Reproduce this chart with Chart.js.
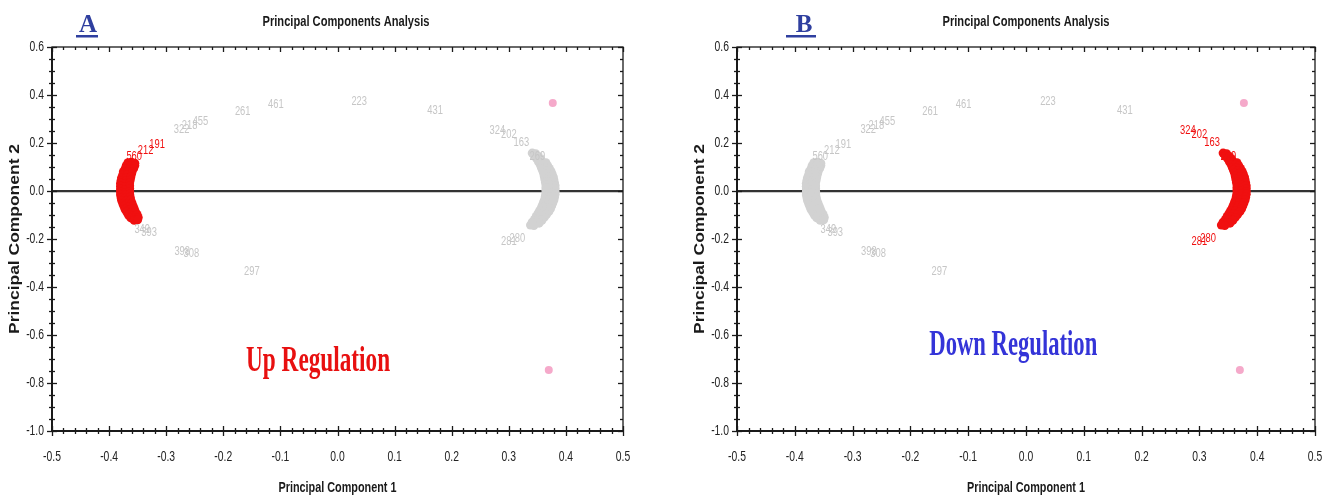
<!DOCTYPE html>
<html><head><meta charset="utf-8">
<script src="https://cdn.jsdelivr.net/npm/chart.js@4.4.1/dist/chart.umd.min.js"></script>
<style>
html,body{margin:0;padding:0;background:#fff;}
#wrap{position:relative;width:1328px;height:498px;overflow:hidden;}
canvas{position:absolute;top:0;}
#cA{left:0}
#cB{left:664px}
</style></head><body>
<div id="wrap"><canvas id="cA" width="664" height="498"></canvas><canvas id="cB" width="664" height="498"></canvas></div>
<script>
// ---------- data ----------
const xTickValues = [-0.5,-0.4,-0.3,-0.2,-0.1,0,0.1,0.2,0.3,0.4,0.5];
const yTickValues = [0.6,0.4,0.2,0,-0.2,-0.4,-0.6,-0.8,-1.0];

// crescent cluster near PC1 = -0.37
const clusterLeft = [
  [-0.367,0.118],[-0.361,0.120],[-0.355,0.116],[-0.370,0.105],[-0.362,0.104],[-0.355,0.106],
  [-0.372,0.092],[-0.364,0.090],[-0.357,0.094],[-0.375,0.080],[-0.367,0.080],[-0.360,0.078],
  [-0.376,0.068],[-0.369,0.066],[-0.361,0.070],[-0.378,0.056],[-0.370,0.054],[-0.362,0.058],
  [-0.379,0.044],[-0.371,0.042],[-0.363,0.046],[-0.380,0.032],[-0.372,0.030],[-0.364,0.034],
  [-0.380,0.020],[-0.372,0.018],[-0.364,0.022],[-0.380,0.008],[-0.372,0.006],[-0.364,0.010],
  [-0.380,-0.004],[-0.372,-0.006],[-0.364,-0.002],[-0.380,-0.016],[-0.372,-0.018],[-0.364,-0.014],
  [-0.379,-0.028],[-0.371,-0.030],[-0.363,-0.026],[-0.378,-0.040],[-0.370,-0.042],[-0.362,-0.038],
  [-0.376,-0.052],[-0.368,-0.054],[-0.360,-0.050],[-0.374,-0.064],[-0.366,-0.066],[-0.358,-0.062],
  [-0.372,-0.076],[-0.364,-0.078],[-0.356,-0.074],[-0.369,-0.088],[-0.361,-0.090],[-0.354,-0.086],
  [-0.366,-0.100],[-0.358,-0.102],[-0.351,-0.098],[-0.362,-0.112],[-0.355,-0.114],[-0.349,-0.110],
  [-0.356,-0.122],[-0.350,-0.120]
];
// crescent cluster near PC1 = 0.37
const clusterRight = [
  [0.341,0.158],[0.347,0.155],[0.345,0.146],[0.352,0.144],[0.349,0.134],[0.356,0.132],
  [0.352,0.122],[0.359,0.120],[0.365,0.118],[0.355,0.110],[0.362,0.108],[0.368,0.106],
  [0.357,0.098],[0.364,0.096],[0.371,0.094],[0.359,0.086],[0.367,0.084],[0.374,0.082],
  [0.361,0.074],[0.369,0.072],[0.376,0.070],[0.362,0.062],[0.370,0.060],[0.378,0.058],
  [0.363,0.050],[0.371,0.048],[0.379,0.046],[0.364,0.038],[0.372,0.036],[0.380,0.034],
  [0.365,0.026],[0.373,0.024],[0.381,0.022],[0.365,0.014],[0.373,0.012],[0.381,0.010],
  [0.365,0.002],[0.373,0.000],[0.381,-0.002],[0.365,-0.010],[0.373,-0.012],[0.381,-0.014],
  [0.364,-0.022],[0.372,-0.024],[0.380,-0.026],[0.363,-0.034],[0.371,-0.036],[0.379,-0.038],
  [0.361,-0.046],[0.369,-0.048],[0.377,-0.050],[0.359,-0.058],[0.367,-0.060],[0.375,-0.062],
  [0.357,-0.070],[0.365,-0.072],[0.373,-0.074],[0.354,-0.082],[0.362,-0.084],[0.370,-0.086],
  [0.351,-0.094],[0.359,-0.096],[0.366,-0.098],[0.348,-0.106],[0.356,-0.108],[0.362,-0.110],
  [0.345,-0.118],[0.352,-0.120],[0.358,-0.122],[0.341,-0.130],[0.348,-0.132],[0.353,-0.134],
  [0.338,-0.142],[0.344,-0.144]
];
const centroid = [[-0.370, 0.000]];
const pinkPoints = [[0.377, 0.367],[0.370,-0.746]];

// individually labelled features
const labelText = ['560','212','191','322','218','455','261','461','223','431','324','202','163','269','281','280','349','393','398','308','297'];
const labelX    = [-0.356,-0.336,-0.316,-0.273,-0.259,-0.240,-0.166,-0.108,0.038,0.171,0.280,0.300,0.322,0.350,0.300,0.315,-0.342,-0.330,-0.272,-0.256,-0.150];
const labelY    = [ 0.145, 0.170, 0.195, 0.255, 0.272, 0.290, 0.330, 0.360,0.373,0.336,0.250,0.235,0.200,0.145,-0.210,-0.198,-0.162,-0.172,-0.252,-0.262,-0.335];
const upLabels   = ['560','212','191'];
const downLabels = ['324','202','163','269','281','280'];

// ---------- drawing ----------
const SANS = "'Liberation Sans',Arial,sans-serif";
const SERIF = "'Liberation Serif','Times New Roman',serif";
const RED = '#f01010', GREY = '#d2d2d2';
const toXY = arr => arr.map(p => ({x:p[0], y:p[1]}));
const fmt = v => (Math.abs(v) < 1e-9 ? 0 : v).toFixed(1);

function fitText(ctx, text, cx, cy, font, color, width, rot){
  ctx.save();
  ctx.font = font; ctx.fillStyle = color;
  ctx.textAlign = 'center'; ctx.textBaseline = 'middle';
  const w = ctx.measureText(text).width;
  ctx.translate(cx, cy);
  if (rot) ctx.rotate(rot);
  ctx.scale(width / w, 1);
  ctx.fillText(text, 0, 0);
  ctx.restore();
}
function narrowText(ctx, text, px, py, align, font, color, sx){
  ctx.save();
  ctx.font = font; ctx.fillStyle = color;
  ctx.textAlign = align; ctx.textBaseline = 'middle';
  ctx.translate(px, py);
  ctx.scale(sx, 1);
  ctx.fillText(text, 0, 0);
  ctx.restore();
}

function decor(P){
  return {
    id:'decor'+P.letter,
    afterDatasetsDraw(chart){
      const {ctx, scales:{x, y}} = chart;
      const meta = chart.getDatasetMeta(4);
      meta.data.forEach((el, i) => {
        const t = labelText[i];
        narrowText(ctx, t, el.x, el.y, 'center', '12px ' + SANS,
                   P.redLabels.includes(t) ? RED : '#c6c6c6', 0.78);
      });
      fitText(ctx, P.regText, x.getPixelForValue(P.regPos[0]), y.getPixelForValue(P.regPos[1]),
              'bold 36px ' + SERIF, P.regColor, P.regWidth);
    },
    afterDraw(chart){
      const {ctx, chartArea:{left, right, top, bottom}, scales:{x, y}} = chart;
      ctx.save();
      ctx.strokeStyle = '#1a1a1a';
      ctx.lineWidth = 1.3;
      ctx.strokeRect(left, top, right - left, bottom - top);
      ctx.lineWidth = 2;
      ctx.beginPath(); ctx.moveTo(left, bottom); ctx.lineTo(right, bottom); ctx.stroke();
      ctx.beginPath(); ctx.moveTo(left, top); ctx.lineTo(left, bottom); ctx.stroke();
      ctx.lineWidth = 1.3;
      const line = (a,b,c,d) => { ctx.beginPath(); ctx.moveTo(a,b); ctx.lineTo(c,d); ctx.stroke(); };
      for (let i = 0; i <= 50; i++){
        const px = Math.round(x.getPixelForValue(-0.5 + i*0.02)) + 0.5;
        const major = i % 5 === 0;
        const l = major ? 5 : 3;
        line(px, bottom - l, px, bottom + l);
        line(px, top, px, top + l);
      }
      for (let i = 0; i <= 32; i++){
        const py = Math.round(y.getPixelForValue(-1 + i*0.05)) + 0.5;
        const major = i % 4 === 0;
        const l = major ? 5 : 3;
        line(left - l, py, left + l, py);
        line(right - l, py, right, py);
      }
      ctx.restore();
      // tick labels from the library's ticks
      x.ticks.forEach(t => narrowText(ctx, fmt(t.value), x.getPixelForValue(t.value), bottom + 26,
                                      'center', '14px ' + SANS, '#222', 0.74));
      y.ticks.forEach(t => narrowText(ctx, fmt(t.value), left - 8, y.getPixelForValue(t.value),
                                      'right', '14px ' + SANS, '#222', 0.74));
      // panel letter
      ctx.save();
      ctx.font = 'bold 25px ' + SERIF;
      ctx.fillStyle = '#2f3f9f';
      ctx.textAlign = 'center'; ctx.textBaseline = 'alphabetic';
      ctx.fillText(P.letter, P.letterX, 32);
      ctx.fillRect(P.ulX0, 35, P.ulX1 - P.ulX0, 2.5);
      ctx.restore();
      // titles
      fitText(ctx, 'Principal Components Analysis', P.titleX, 22, 'bold 14px ' + SANS, '#1a1a1a', 167);
      fitText(ctx, 'Principal Component 1', (left + right)/2, 488, 'bold 14px ' + SANS, '#1a1a1a', 118);
      fitText(ctx, 'Principal Component 2', P.yTitleX, (top + bottom)/2, 'bold 14px ' + SANS, '#1a1a1a', 190, -Math.PI/2);
    }
  };
}

function build(id, P){
  const labelPts = labelText.map((t, i) => ({x: labelX[i], y: labelY[i]}));
  return new Chart(document.getElementById(id), {
    type:'scatter',
    data:{datasets:[
      {data:toXY(clusterLeft), backgroundColor:P.leftColor, pointRadius:4.5, borderWidth:0},
      {data:toXY(clusterRight), backgroundColor:P.rightColor, pointRadius:4.5, borderWidth:0},
      {data:toXY(pinkPoints), backgroundColor:'#f5a9ca', pointRadius:4, borderWidth:0},
      {data:toXY(centroid), backgroundColor:P.centroidColor, pointRadius:4.5, borderWidth:0},
      {data:labelPts, pointRadius:0, pointHoverRadius:0, backgroundColor:'rgba(0,0,0,0)'}
    ]},
    options:{
      responsive:false, animation:false, events:[],
      layout:{padding:{top:47, right:P.padRight, left:0, bottom:0}},
      plugins:{legend:{display:false}, tooltip:{enabled:false}, title:{display:false}},
      scales:{
        x:{type:'linear', min:-0.5, max:0.5,
           afterBuildTicks:s => { s.ticks = xTickValues.map(v => ({value:v})); },
           afterFit:s => { s.height = 67; },
           ticks:{display:false},
           grid:{display:false, drawTicks:false}, border:{display:false}},
        y:{type:'linear', min:-1.0, max:0.6,
           afterBuildTicks:s => { s.ticks = yTickValues.map(v => ({value:v})); },
           afterFit:s => { s.width = P.yWidth; },
           ticks:{display:false},
           grid:{drawTicks:false, lineWidth:2.2,
                 color:c => (c.tick && Math.abs(c.tick.value) < 1e-9) ? '#333' : 'rgba(0,0,0,0)'},
           border:{display:false}}
      }
    },
    plugins:[decor(P)]
  });
}

build('cA', {
  letter:'A', letterX:88, ulX0:76, ulX1:98,
  titleX:346, yTitleX:15, yWidth:52, padRight:41,
  leftColor:RED, rightColor:GREY, centroidColor:'#aab6e2',
  redLabels:upLabels,
  regText:'Up Regulation', regPos:[-0.034,-0.71], regColor:'#e81010', regWidth:144
});
build('cB', {
  letter:'B', letterX:140, ulX0:122, ulX1:152,
  titleX:362, yTitleX:36, yWidth:73, padRight:13,
  leftColor:GREY, rightColor:RED, centroidColor:'#8ec6f2',
  redLabels:downLabels,
  regText:'Down Regulation', regPos:[-0.022,-0.645], regColor:'#3434d8', regWidth:168
});
</script>
</body></html>
